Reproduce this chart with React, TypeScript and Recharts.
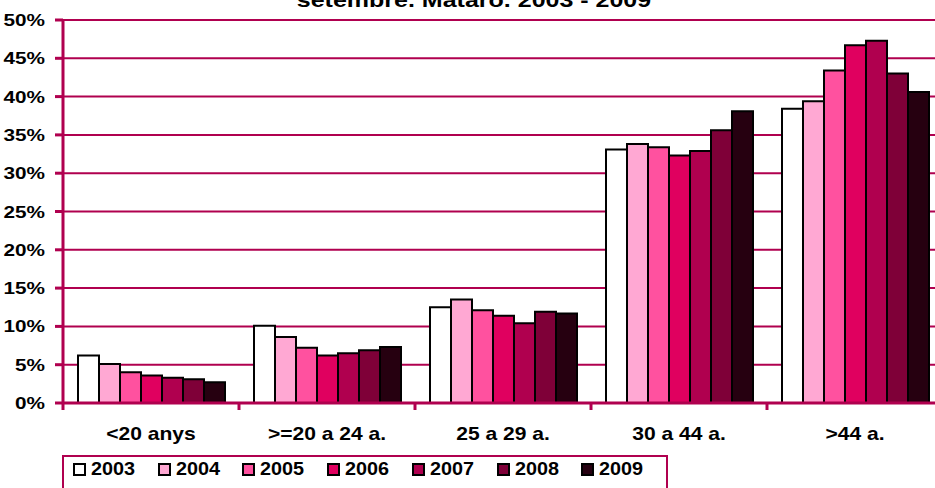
import React from 'react';
import { BarChart, Bar, XAxis, YAxis, CartesianGrid } from 'recharts';

const categories = ['<20 anys', '>=20 a 24 a.', '25 a 29 a.', '30 a 44 a.', '>44 a.'];
const years = ['2003', '2004', '2005', '2006', '2007', '2008', '2009'];
const v2003 = [6.2, 10.1, 12.5, 33.1, 38.4];
const v2004 = [5.1, 8.6, 13.5, 33.8, 39.4];
const v2005 = [4.0, 7.2, 12.1, 33.4, 43.4];
const v2006 = [3.6, 6.2, 11.4, 32.3, 46.7];
const v2007 = [3.3, 6.5, 10.4, 32.9, 47.3];
const v2008 = [3.1, 6.9, 11.9, 35.6, 43.0];
const v2009 = [2.7, 7.3, 11.7, 38.1, 40.6];
const yTicks = [0, 5, 10, 15, 20, 25, 30, 35, 40, 45, 50];
const colors = ['#FFFFFF', '#FFA8D3', '#FF519F', '#E0005F', '#B0004F', '#7F0038', '#260010'];
const title = 'setembre. Mataró. 2003 - 2009';

const series = [v2003, v2004, v2005, v2006, v2007, v2008, v2009];
const data = categories.map((c, i) => {
  const row: Record<string, string | number> = { cat: c };
  years.forEach((y, j) => {
    row[y] = series[j][i];
  });
  return row;
});

const MAG = '#B0004F';
const FONT = '"Liberation Sans", Arial, sans-serif';

const XTick = (props: any) => {
  const { x, y, payload } = props;
  const half = 88;
  return (
    <g>
      <line x1={x - half} x2={x - half} y1={y} y2={y + 7} stroke={MAG} strokeWidth={3} />
      <g transform={`translate(${x},${y + 37})`}>
        <text x={0} y={0} transform="scale(1.17,1)" textAnchor="middle" fontFamily={FONT} fontWeight="bold" fontSize={18} fill="#000">
          {payload.value}
        </text>
      </g>
    </g>
  );
};

const YTick = (props: any) => {
  const { x, y, payload } = props;
  return (
    <g transform={`translate(${x},${y})`}>
      <text x={0} y={0} dy="0.355em" transform="scale(1.22,1)" textAnchor="end" fontFamily={FONT} fontWeight="bold" fontSize={17} fill="#000">
        {`${payload.value}%`}
      </text>
    </g>
  );
};

export default function App() {
  return (
    <div style={{ position: 'absolute', left: 0, top: 0, width: 935, height: 488, overflow: 'hidden', background: '#fff' }}>
      <div
        style={{
          position: 'absolute',
          left: 474,
          top: -10,
          transform: 'translateX(-50%) scaleX(1.25)',
          whiteSpace: 'nowrap',
          fontFamily: FONT,
          fontWeight: 'bold',
          fontSize: 20,
          lineHeight: '20px',
          color: '#000',
        }}
      >
        {title}
      </div>
      <BarChart
        width={943}
        height={488}
        data={data}
        margin={{ top: 20, right: 0, left: 0, bottom: 45 }}
        barCategoryGap={15}
        barGap={0}
      >
        <CartesianGrid vertical={false} stroke={MAG} strokeWidth={2} />
        <XAxis
          dataKey="cat"
          height={40}
          axisLine={{ stroke: MAG, strokeWidth: 3 }}
          tickLine={false}
          tickSize={0}
          tickMargin={0}
          tick={<XTick />}
          interval={0}
        />
        <YAxis
          width={63}
          domain={[0, 50]}
          ticks={yTicks}
          interval={0}
          axisLine={{ stroke: MAG, strokeWidth: 3 }}
          tickLine={{ stroke: MAG, strokeWidth: 3 }}
          tickSize={8}
          tickMargin={10}
          tick={<YTick />}
        />
        {years.map((y, j) => (
          <Bar key={y} dataKey={y} fill={colors[j]} stroke="#000" strokeWidth={2} isAnimationActive={false} />
        ))}
      </BarChart>
      <div
        style={{
          position: 'absolute',
          left: 62,
          top: 455,
          width: 606,
          height: 40,
          border: `2px solid ${MAG}`,
          boxSizing: 'border-box',
          display: 'flex',
          paddingLeft: 9,
          paddingTop: 1,
          fontFamily: FONT,
          fontWeight: 'bold',
          fontSize: 18,
          color: '#000',
        }}
      >
        {years.map((y, j) => (
          <div key={y} style={{ width: 86.3, display: 'flex', alignItems: 'center', height: 22 }}>
            <span
              style={{
                display: 'inline-block',
                width: 13,
                height: 13,
                boxSizing: 'border-box',
                border: '2px solid #000',
                background: colors[j],
                marginRight: 5,
              }}
            />
            <span style={{ display: 'inline-block', transform: 'scaleX(1.1)', transformOrigin: 'left center' }}>{y}</span>
          </div>
        ))}
      </div>
    </div>
  );
}
